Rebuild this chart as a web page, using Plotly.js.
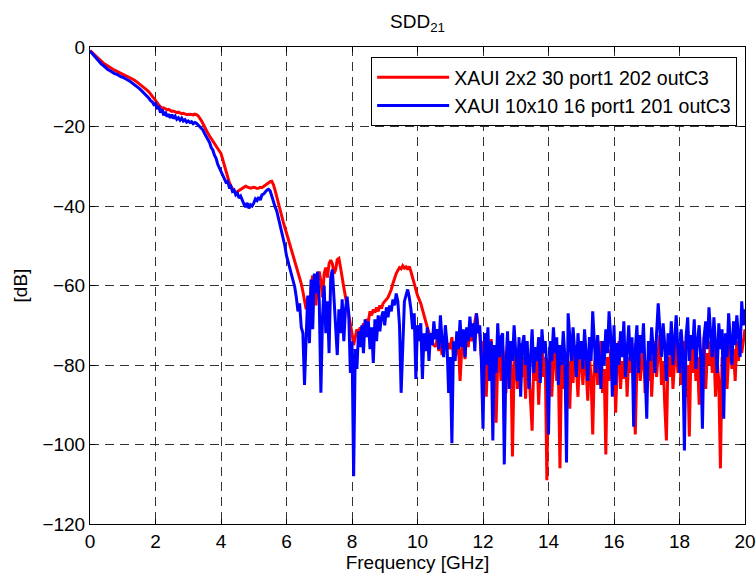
<!DOCTYPE html>
<html><head><meta charset="utf-8">
<script src="https://cdn.plot.ly/plotly-3.0.1.min.js"></script>
<style>html,body{margin:0;padding:0;background:#fff}#chart{width:756px;height:574px}</style>
</head><body><div id="chart"></div>
<script>
const seriesNames = ["XAUI 2x2 30 port1 202 outC3", "XAUI 10x10 16 port1 201 outC3"];
const seriesColors = ["#ff0000", "#0000ff"];
const freqStartGHz = 0;
const freqStepGHz = 0.05;

// SDD21 [dB], sampled every 0.05 GHz from 0 to 20 GHz
const redDb = [
 -0.9,-1.3,-1.8,-2.2,-2.6,-3.0,-3.4,-3.7,-4.0,-4.3,-4.6,-4.9,-5.2,-5.4,-5.6,-5.8,-6.0,-6.2,-6.4,-6.6,
 -6.8,-7.0,-7.2,-7.4,-7.6,-7.8,-8.0,-8.3,-8.6,-8.9,-9.2,-9.5,-9.8,-10.1,-10.5,-10.9,-11.3,-11.8,-12.3,-12.8,
 -13.4,-14.0,-14.6,-15.1,-15.4,-15.3,-15.5,-15.8,-15.7,-16.0,-16.2,-16.1,-16.3,-16.5,-16.4,-16.6,-16.8,-16.7,-16.9,-17.0,
 -17.0,-16.9,-17.0,-17.1,-16.9,-17.0,-17.3,-17.8,-18.5,-19.3,-20.2,-21.0,-21.7,-22.4,-23.0,-23.6,-24.2,-24.8,-25.5,-26.1,
 -26.8,-28.2,-29.8,-31.3,-32.8,-34.0,-35.0,-35.8,-36.3,-36.5,-36.4,-36.1,-35.8,-35.5,-35.3,-35.0,-35.2,-35.4,-35.5,-35.4,
 -35.3,-35.4,-35.6,-35.5,-35.3,-35.4,-35.1,-34.7,-34.3,-34.1,-33.9,-33.8,-34.6,-36.0,-37.7,-39.5,-41.2,-42.6,-44.0,-45.4,
 -46.8,-48.2,-49.6,-51.0,-52.4,-53.8,-55.2,-56.5,-57.8,-59.5,-61.5,-63.5,-66.0,-63.0,-67.0,-60.5,-57.5,-62.0,-65.0,-58.0,
 -56.5,-59.0,-63.0,-57.0,-55.5,-58.0,-54.5,-53.6,-54.5,-57.0,-56.0,-53.5,-53.2,-55.5,-58.6,-60.5,-62.8,-65.0,-67.5,-70.0,
 -72.0,-75.0,-73.0,-71.0,-72.5,-70.5,-71.5,-69.5,-70.5,-68.5,-69.0,-66.5,-67.5,-66.0,-66.8,-65.5,-66.5,-65.0,-65.8,-64.5,
 -64.0,-63.5,-63.0,-62.0,-61.0,-59.5,-58.0,-57.0,-56.2,-55.5,-55.8,-55.0,-55.6,-55.3,-56.0,-55.2,-56.5,-58.0,-60.0,-61.5,
 -62.5,-63.5,-64.5,-66.0,-67.8,-69.0,-70.5,-72.0,-73.7,-74.5,-75.0,-75.4,-73.5,-76.5,-74.0,-77.5,-75.0,-73.0,-76.0,-74.5,
 -76.0,-73.0,-78.0,-74.5,-77.5,-75.0,-84.0,-76.0,-73.0,-78.5,-72.0,-75.5,-70.0,-74.0,-71.5,-69.0,-67.0,-70.5,-72.0,-78.0,
 -74.0,-78.5,-88.0,-76.0,-80.5,-73.5,-82.0,-77.0,-94.5,-79.0,-76.0,-84.0,-75.0,-80.0,-87.0,-76.5,-83.0,-78.0,-103.0,-80.0,
 -77.0,-86.0,-79.0,-74.5,-83.0,-78.0,-88.5,-76.0,-81.0,-89.0,-96.5,-79.0,-84.0,-76.0,-90.0,-79.0,-74.5,-83.0,-78.0,-109.0,
 -82.0,-77.0,-88.0,-79.0,-75.5,-84.0,-80.0,-106.0,-78.0,-86.0,-76.5,-82.0,-79.0,-91.0,-77.0,-84.5,-75.0,-80.0,-88.0,-77.5,
 -79.0,-85.0,-76.0,-81.5,-89.0,-78.0,-83.0,-97.5,-80.0,-76.5,-85.0,-79.0,-74.0,-87.0,-81.0,-102.5,-78.0,-84.0,-76.0,-82.0,
 -76.0,-92.0,-80.0,-74.0,-86.0,-79.0,-83.5,-75.5,-88.0,-78.0,-82.0,-74.5,-86.0,-97.5,-80.0,-76.0,-84.0,-79.0,-75.0,-87.0,
 -79.0,-84.0,-76.0,-88.0,-78.5,-74.0,-83.0,-77.0,-72.5,-85.0,-79.0,-90.0,-99.0,-78.0,-83.0,-75.0,-86.0,-79.0,-74.0,-82.0,
 -77.0,-85.0,-79.0,-74.0,-88.0,-80.0,-98.0,-76.0,-82.0,-74.5,-84.0,-78.0,-90.0,-76.0,-81.0,-73.0,-86.0,-77.0,-80.0,-74.0,
 -82.0,-76.0,-88.0,-79.0,-84.0,-106.0,-78.0,-83.0,-75.0,-86.0,-78.0,-73.0,-81.0,-76.0,-84.0,-74.0,-79.0,-72.0,-77.0,-74.0,
 -71.0
];

const blueDb = [
 -1.0,-1.5,-2.0,-2.5,-3.0,-3.4,-3.9,-4.3,-4.6,-5.0,-5.3,-5.7,-5.9,-6.2,-6.4,-6.7,-6.8,-7.1,-7.2,-7.5,
 -7.6,-7.9,-8.0,-8.3,-8.5,-8.8,-9.0,-9.4,-9.7,-10.1,-10.4,-10.8,-11.2,-11.7,-12.0,-12.6,-12.9,-13.5,-13.8,-14.5,
 -14.2,-15.6,-14.8,-16.5,-15.6,-17.2,-16.3,-17.5,-16.9,-17.8,-17.0,-18.0,-17.4,-18.2,-17.8,-18.4,-17.9,-18.6,-18.3,-18.9,
 -18.6,-19.0,-18.8,-19.3,-19.0,-19.2,-19.6,-19.9,-20.3,-20.9,-21.8,-22.6,-23.4,-24.0,-25.3,-25.9,-27.2,-28.0,-29.5,-30.4,
 -31.5,-32.2,-33.4,-34.0,-33.8,-35.2,-35.0,-36.3,-36.0,-37.2,-36.8,-38.0,-37.5,-38.8,-39.5,-40.3,-39.2,-40.6,-39.7,-40.0,
 -39.3,-38.2,-38.6,-37.8,-38.5,-37.2,-37.0,-36.5,-36.0,-35.8,-36.2,-37.5,-39.0,-40.2,-41.2,-43.0,-44.6,-46.2,-47.7,-50.0,
 -52.5,-54.0,-55.3,-57.0,-58.5,-60.3,-63.0,-66.5,-64.5,-70.5,-72.0,-85.0,-73.0,-62.5,-74.5,-58.5,-71.0,-57.0,-62.0,-56.5,
 -64.0,-87.0,-68.0,-60.0,-72.0,-64.0,-77.0,-58.0,-56.0,-62.5,-70.0,-77.5,-66.0,-72.0,-63.5,-74.0,-66.0,-62.8,-67.0,-82.0,
 -74.0,-108.0,-76.0,-81.0,-71.5,-75.5,-70.0,-77.0,-68.5,-73.0,-69.0,-76.0,-70.5,-79.5,-68.5,-74.0,-67.5,-71.5,-68.0,-66.5,
 -70.0,-65.5,-68.0,-65.0,-66.5,-63.5,-65.0,-62.0,-64.0,-70.0,-87.0,-75.0,-64.0,-62.5,-61.0,-63.0,-66.0,-71.0,-67.0,-83.5,
 -70.0,-74.0,-69.5,-83.5,-72.0,-76.5,-70.5,-79.0,-72.0,-75.0,-69.0,-73.5,-71.0,-76.0,-67.5,-74.0,-78.0,-70.0,-74.5,-87.0,
 -78.0,-99.7,-74.0,-79.0,-71.5,-76.0,-68.7,-75.5,-71.0,-78.0,-70.5,-74.0,-67.8,-73.0,-69.5,-76.5,-67.0,-72.0,-70.0,-79.0,
 -96.0,-72.0,-80.0,-70.5,-84.0,-74.0,-99.0,-75.0,-82.0,-69.5,-78.0,-73.0,-72.0,-105.0,-80.0,-71.5,-86.0,-74.0,-79.0,-70.0,
 -76.0,-84.0,-73.0,-88.0,-75.0,-72.5,-80.0,-74.0,-86.0,-76.5,-71.0,-82.0,-75.5,-79.0,-73.0,-84.5,-71.0,-77.0,-74.0,-80.0,
 -97.5,-74.0,-79.0,-70.5,-77.0,-73.0,-85.0,-75.0,-80.0,-71.5,-78.0,-104.5,-67.0,-73.0,-79.0,-70.5,-76.0,-83.0,-72.0,-78.5,
 -74.0,-81.0,-71.0,-77.5,-84.0,-73.0,-79.0,-66.5,-75.0,-82.0,-72.5,-78.0,-86.0,-74.0,-80.0,-71.0,-77.0,-66.5,-73.0,-88.0,
 -70.0,-85.0,-74.5,-80.0,-71.5,-78.0,-69.0,-83.0,-75.0,-70.0,-79.0,-73.0,-95.5,-76.0,-70.0,-82.0,-72.5,-77.0,-69.5,-80.0,
 -93.5,-74.0,-79.0,-70.5,-76.0,-82.0,-72.0,-64.5,-71.0,-78.0,-69.5,-75.0,-84.0,-72.0,-77.5,-69.0,-80.0,-73.0,-67.5,-76.0,
 -82.0,-71.0,-77.0,-101.5,-73.0,-68.0,-79.0,-72.5,-76.0,-68.5,-81.0,-74.0,-70.0,-78.0,-96.0,-73.0,-69.0,-76.0,-65.5,-72.0,
 -78.0,-68.0,-74.0,-82.0,-69.5,-76.0,-71.0,-93.5,-72.0,-78.0,-67.0,-74.0,-80.0,-69.0,-75.0,-67.5,-72.0,-78.0,-64.0,-70.0,
 -66.0
];

const xTickVals = [0, 2, 4, 6, 8, 10, 12, 14, 16, 18, 20];
const yTickVals = [-120, -100, -80, -60, -40, -20, 0];

function freqGrid(n) {
  const f = [];
  for (let i = 0; i < n; i++) f.push(+(freqStartGHz + i * freqStepGHz).toFixed(3));
  return f;
}

const fontFam = "Liberation Sans, Arial, sans-serif";
const traces = [redDb, blueDb].map((vals, k) => ({
  type: "scatter", mode: "lines",
  x: freqGrid(vals.length), y: vals,
  name: seriesNames[k],
  line: {color: seriesColors[k], width: 3}
}));

const axisCommon = {
  showline: true, linecolor: "#000", linewidth: 1, mirror: "ticks",
  ticks: "inside", ticklen: 5, tickcolor: "#000",
  showgrid: true, gridcolor: "#333", griddash: "9px,6px", gridwidth: 1,
  zeroline: false, tickfont: {family: fontFam, size: 19, color: "#000"}
};

const layout = {
  width: 756, height: 574,
  margin: {l: 90, r: 11, t: 47, b: 50},
  paper_bgcolor: "#fff", plot_bgcolor: "#fff",
  font: {family: fontFam, size: 19, color: "#000"},
  title: {text: "SDD<sub>21</sub>", x: 0.5, xref: "paper", y: 0.962, yref: "container", yanchor: "middle",
          font: {family: fontFam, size: 19, color: "#000"}},
  xaxis: Object.assign({}, axisCommon, {range: [0, 20], tickvals: xTickVals,
          title: {text: "Frequency [GHz]", standoff: 2, font: {family: fontFam, size: 19}}}),
  yaxis: Object.assign({}, axisCommon, {range: [-120, 0], tickvals: yTickVals,
          title: {text: "[dB]", standoff: 9, font: {family: fontFam, size: 19}}}),
  legend: {x: 0.988, xanchor: "right", y: 0.979, yanchor: "top",
           bgcolor: "#fff", bordercolor: "#000", borderwidth: 1,
           font: {family: fontFam, size: 19.5, color: "#000"}, itemwidth: 72, tracegroupgap: 0},
  showlegend: true
};

Plotly.newPlot("chart", traces, layout, {staticPlot: true, displayModeBar: false});
</script>
</body></html>
